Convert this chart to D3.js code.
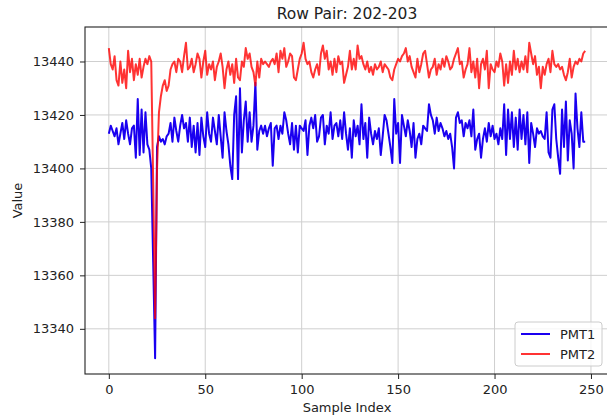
<!DOCTYPE html>
<html>
<head>
<meta charset="utf-8">
<script src="https://cdn.jsdelivr.net/npm/d3@7"></script>
<style>
  body { margin: 0; background: #fff; }
  svg text { font-family: "DejaVu Sans", sans-serif; fill: #222; }
</style>
</head>
<body>
<div class="chart"></div>
<script>
const title = "Row Pair: 202-203";
const xLabel = "Sample Index";
const yLabel = "Value";
const seriesNames = ["PMT1", "PMT2"];
const xTicks = [0, 50, 100, 150, 200, 250];
const yTicks = [13340, 13360, 13380, 13400, 13420, 13440];

// PMT1 readings, one per sample index
const pmt1 = [
  13413, 13416, 13414, 13412, 13415, 13409, 13413, 13417, 13411, 13418,
  13413, 13409, 13415, 13416, 13404, 13426, 13405, 13422, 13406, 13421,
  13409, 13407, 13400, 13365, 13329, 13408, 13412, 13410, 13411, 13409,
  13412, 13413, 13417, 13410, 13419, 13414, 13410, 13416, 13420, 13415,
  13417, 13410, 13419, 13408, 13416, 13406, 13417, 13405, 13419, 13412,
  13408, 13421, 13413, 13410, 13419, 13414, 13409, 13420, 13412, 13404,
  13421, 13414, 13409, 13401, 13396, 13420, 13427, 13396, 13430, 13406,
  13418, 13425, 13410, 13421, 13410, 13416, 13432, 13407, 13414, 13416,
  13413, 13416, 13412, 13415, 13417, 13401, 13415, 13416, 13411, 13416,
  13413, 13421, 13418, 13413, 13409, 13417, 13407, 13416, 13406, 13416,
  13415, 13414, 13418, 13405, 13416, 13419, 13415, 13420, 13410, 13412,
  13419, 13420, 13409, 13416, 13413, 13421, 13411, 13416, 13417, 13412,
  13418, 13411, 13421, 13413, 13407, 13415, 13404, 13418, 13412, 13416,
  13409, 13424, 13411, 13417, 13404, 13419, 13413, 13409, 13414, 13411,
  13415, 13405, 13412, 13420, 13418, 13413, 13408, 13402, 13426, 13413,
  13417, 13402, 13420, 13416, 13412, 13418, 13414, 13408, 13417, 13404,
  13411, 13413, 13409, 13416, 13415, 13414, 13424, 13420, 13418, 13413,
  13419, 13414, 13417, 13415, 13412, 13414, 13411, 13413, 13408, 13400,
  13419, 13421, 13417, 13418, 13412, 13417, 13415, 13418, 13412, 13422,
  13407, 13411, 13413, 13404, 13411, 13415, 13410, 13417, 13412, 13416,
  13411, 13413, 13409, 13415, 13411, 13424, 13405, 13422, 13411, 13421,
  13408, 13419, 13407, 13422, 13411, 13420, 13409, 13421, 13402, 13417,
  13413, 13408, 13415, 13413, 13414, 13412, 13411, 13421, 13406, 13404,
  13422, 13424, 13411, 13404, 13398, 13422, 13408, 13425, 13403, 13418,
  13413, 13400, 13428, 13415, 13408, 13421, 13410, 13410
];

// PMT2 readings, one per sample index
const pmt2 = [
  13445, 13439, 13437, 13442, 13433, 13431, 13440, 13432, 13437, 13430,
  13444, 13436, 13441, 13433, 13439, 13435, 13441, 13434, 13438, 13441,
  13439, 13442, 13440, 13395, 13344, 13400, 13421, 13427, 13431, 13433,
  13429, 13431, 13437, 13439, 13440, 13436, 13441, 13440, 13436, 13442,
  13447, 13437, 13438, 13441, 13436, 13439, 13443, 13441, 13434, 13440,
  13444, 13435, 13439, 13437, 13440, 13433, 13438, 13440, 13443, 13438,
  13430, 13437, 13440, 13435, 13439, 13432, 13441, 13434, 13433, 13440,
  13438, 13445, 13441, 13443, 13438, 13436, 13431, 13440, 13434, 13441,
  13439, 13440, 13439, 13438, 13440, 13441, 13439, 13443, 13436, 13444,
  13441, 13445, 13438, 13440, 13443, 13442, 13434, 13433, 13437, 13441,
  13443, 13447, 13441, 13439, 13440, 13436, 13434, 13437, 13439, 13435,
  13443, 13446, 13441, 13444, 13437, 13440, 13435, 13441, 13436, 13442,
  13439, 13440, 13432, 13435, 13438, 13444, 13437, 13441, 13437, 13446,
  13441, 13442, 13439, 13437, 13440, 13436, 13438, 13435, 13439, 13437,
  13438, 13440, 13436, 13439, 13438, 13437, 13434, 13433, 13437, 13439,
  13441, 13440, 13442, 13443, 13445, 13440, 13442, 13438, 13436, 13434,
  13441, 13436, 13439, 13443, 13444, 13439, 13434, 13437, 13438, 13441,
  13435, 13439, 13437, 13441, 13438, 13442, 13440, 13437, 13438, 13441,
  13443, 13445, 13439, 13440, 13434, 13437, 13439, 13445, 13436, 13440,
  13434, 13441, 13430, 13439, 13441, 13437, 13444, 13430, 13439, 13437,
  13436, 13440, 13438, 13443, 13440, 13431, 13439, 13432, 13440, 13435,
  13444, 13437, 13441, 13436, 13440, 13437, 13442, 13436, 13447, 13443,
  13439, 13442, 13435, 13438, 13430, 13438, 13435, 13439, 13441, 13436,
  13444, 13439, 13438, 13439, 13437, 13438, 13435, 13433, 13436, 13441,
  13434, 13438, 13440, 13439, 13441, 13440, 13443, 13444
];

const containerWidth = 607;
const containerHeight = 417;
const margin = { top: 27, right: -2, bottom: 43, left: 85 };
const width = containerWidth - margin.left - margin.right;
const height = containerHeight - margin.top - margin.bottom;

const svg = d3.select('.chart')
  .append('svg')
  .attr('width', containerWidth)
  .attr('height', containerHeight)
  .style('display', 'block');

const g = svg.append('g')
  .attr('transform', `translate(${margin.left}, ${margin.top})`);

// matplotlib-like 5% margins around the data
const n = pmt1.length;
const xPad = (n - 1) * 0.05;
const allVals = pmt1.concat(pmt2);
const [yMin, yMax] = d3.extent(allVals);
const yPad = (yMax - yMin) * 0.05;

const xScale = d3.scaleLinear()
  .domain([-xPad, n - 1 + xPad])
  .range([0, width]);

const yScale = d3.scaleLinear()
  .domain([yMin - yPad, yMax + yPad])
  .range([height, 0]);

// grid
g.append('g')
  .selectAll('line')
  .data(xTicks)
  .join('line')
  .attr('x1', d => xScale(d)).attr('x2', d => xScale(d))
  .attr('y1', 0).attr('y2', height)
  .attr('stroke', '#cfcfcf')
  .attr('stroke-width', 1);

g.append('g')
  .selectAll('line')
  .data(yTicks)
  .join('line')
  .attr('x1', 0).attr('x2', width)
  .attr('y1', d => yScale(d)).attr('y2', d => yScale(d))
  .attr('stroke', '#cfcfcf')
  .attr('stroke-width', 1);

const line = d3.line()
  .x((d, i) => xScale(i))
  .y(d => yScale(d));

g.append('path')
  .datum(pmt1)
  .attr('d', line)
  .attr('fill', 'none')
  .attr('stroke', '#1a00f0')
  .attr('stroke-width', 2)
  .attr('stroke-linejoin', 'round');

g.append('path')
  .datum(pmt2)
  .attr('d', line)
  .attr('fill', 'none')
  .attr('stroke', '#ff0000')
  .attr('stroke-opacity', 0.8)
  .attr('stroke-width', 2)
  .attr('stroke-linejoin', 'round');

// axes (plain integers, no thousands separator)
const xAxis = g.append('g')
  .attr('transform', `translate(0, ${height})`)
  .call(d3.axisBottom(xScale).tickValues(xTicks).tickFormat(d3.format('d'))
    .tickSize(5).tickPadding(6).tickSizeOuter(0));

const yAxis = g.append('g')
  .call(d3.axisLeft(yScale).tickValues(yTicks).tickFormat(d3.format('d'))
    .tickSize(5).tickPadding(6).tickSizeOuter(0));

[xAxis, yAxis].forEach(a => {
  a.select('.domain').remove();
  a.selectAll('line').attr('stroke', '#222').attr('stroke-width', 1);
  a.selectAll('text').style('font-size', '13px').attr('fill', '#222');
});

// frame
g.append('rect')
  .attr('x', 0).attr('y', 0)
  .attr('width', width).attr('height', height)
  .attr('fill', 'none')
  .attr('stroke', '#222')
  .attr('stroke-width', 1.1);

// labels
svg.append('text')
  .attr('x', margin.left + width / 2)
  .attr('y', 19)
  .attr('text-anchor', 'middle')
  .style('font-size', '15.5px')
  .text(title);

svg.append('text')
  .attr('x', margin.left + width / 2)
  .attr('y', 412)
  .attr('text-anchor', 'middle')
  .style('font-size', '13px')
  .text(xLabel);

svg.append('text')
  .attr('transform', `translate(22, ${margin.top + height / 2}) rotate(-90)`)
  .attr('text-anchor', 'middle')
  .style('font-size', '13px')
  .text(yLabel);

// legend, lower right
const legend = svg.append('g')
  .attr('transform', 'translate(515, 322)');

legend.append('rect')
  .attr('width', 87).attr('height', 44)
  .attr('rx', 3)
  .attr('fill', 'rgba(255,255,255,0.8)')
  .attr('stroke', '#cccccc');

const legendColors = ['#1a00f0', 'rgba(255,0,0,0.8)'];
seriesNames.forEach((name, i) => {
  const row = legend.append('g').attr('transform', `translate(0, ${12 + i * 20})`);
  row.append('line')
    .attr('x1', 6).attr('x2', 35)
    .attr('stroke', legendColors[i])
    .attr('stroke-width', 2);
  row.append('text')
    .attr('x', 45).attr('y', 4.5)
    .style('font-size', '13px')
    .text(name);
});
</script>
</body>
</html>
